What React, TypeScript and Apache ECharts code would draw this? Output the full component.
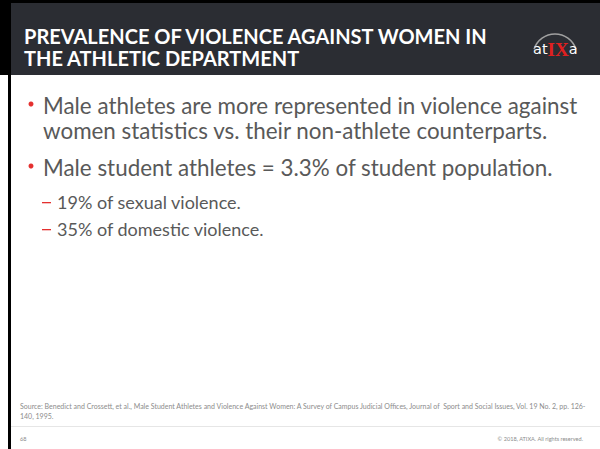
import React, { useEffect, useRef } from "react";
import * as echarts from "echarts";

const titleLines = ["PREVALENCE OF VIOLENCE AGAINST WOMEN IN", "THE ATHLETIC DEPARTMENT"];
const bulletLines = [
  ["Male athletes are more represented in violence against", "women statistics vs. their non-athlete counterparts."],
  ["Male student athletes = 3.3% of student population."],
];
const subItems = ["19% of sexual violence.", "35% of domestic violence."];
const sourceLines = [
  "Source: Benedict and Crossett, et al., Male Student Athletes and Violence Against Women: A Survey of Campus Judicial Offices, Journal of  Sport and Social Issues, Vol. 19 No. 2, pp. 126-",
  "140, 1995.",
];
const pageNumber = "68";
const copyright = "\u00a9 2018, ATIXA. All rights reserved.";
const logoParts = ["at", "IX", "a"];

const RED = "#e4302f";
const GRAY = "#595959";
const FONT = "Lato, 'Open Sans', sans-serif";

export default function App() {
  const ref = useRef<HTMLDivElement>(null);
  useEffect(() => {
    document.body.style.margin = "0";
    const chart = echarts.init(ref.current!, null, { renderer: "svg" });
    const els: any[] = [];
    // frame
    els.push({ type: "rect", shape: { x: 0, y: 0, width: 600, height: 449 }, style: { fill: "#ffffff" } });
    els.push({ type: "rect", shape: { x: 0, y: 0, width: 600, height: 75 }, style: { fill: "#000000" } });
    els.push({ type: "rect", shape: { x: 11, y: 3, width: 589, height: 72 }, style: { fill: "#2b2d33" } });
    els.push({ type: "rect", shape: { x: 8, y: 0, width: 3, height: 449 }, style: { fill: "#000000" } });
    // title
    titleLines.forEach((t, i) => {
      els.push({
        type: "text", x: 24, y: 35.8 + i * 21.8,
        style: { text: t, fill: "#ffffff", font: `bold 20px ${FONT}`, lineHeight: 19, verticalAlign: "middle", align: "left" },
      });
    });
    // logo
    els.push({ type: "arc", shape: { cx: 555, cy: 56, r: 22, startAngle: Math.PI * 1.1, endAngle: Math.PI * 1.9 }, style: { stroke: "#a0a0a0", lineWidth: 1.5, fill: null } });
    els.push({
      type: "text", x: 533, y: 49,
      style: {
        text: `{w|${logoParts[0]}}{r|${logoParts[1]}}{w|${logoParts[2]}}`,
        verticalAlign: "middle", align: "left",
        rich: {
          w: { fill: "#ffffff", font: `14.5px 'DejaVu Sans', sans-serif`, lineHeight: 18 },
          r: { fill: "#e02020", font: `bold 19px 'Liberation Serif', serif`, lineHeight: 18 },
        },
      },
    });
    // bullets
    let y = 105;
    bulletLines.forEach((lines) => {
      els.push({ type: "circle", shape: { cx: 31, cy: y - 1, r: 2.5 }, style: { fill: RED } });
      lines.forEach((t, li) => {
        els.push({
          type: "text", x: 43, y: y + li * 25,
          style: { text: t, fill: GRAY, font: `22.4px ${FONT}`, lineHeight: 24, verticalAlign: "middle", align: "left" },
        });
      });
      y += (lines.length - 1) * 25 + 37;
    });
    subItems.forEach((t, i) => {
      const yy = 202 + i * 27;
      els.push({ type: "rect", shape: { x: 42, y: yy, width: 9, height: 1.3 }, style: { fill: RED } });
      els.push({ type: "text", x: 57, y: yy, style: { text: t, fill: GRAY, font: `18px ${FONT}`, lineHeight: 20, verticalAlign: "middle", align: "left" } });
    });
    // source
    sourceLines.forEach((t, i) => {
      els.push({ type: "text", x: 20, y: 406 + i * 10, style: { text: t, fill: "#8c8c8c", font: `7px ${FONT}`, lineHeight: 8, verticalAlign: "middle", align: "left" } });
    });
    els.push({ type: "rect", shape: { x: 11, y: 426, width: 589, height: 1 }, style: { fill: "#e6e6e6" } });
    els.push({ type: "text", x: 20, y: 438, style: { text: pageNumber, fill: "#8c8c8c", font: `5.6px ${FONT}`, verticalAlign: "middle", align: "left" } });
    els.push({ type: "text", x: 583, y: 438, style: { text: copyright, fill: "#8c8c8c", font: `5.6px ${FONT}`, verticalAlign: "middle", align: "right" } });

    chart.setOption({ animation: false, graphic: { elements: els } });
    return () => chart.dispose();
  }, []);
  return <div ref={ref} style={{ width: 600, height: 449 }} />;
}
